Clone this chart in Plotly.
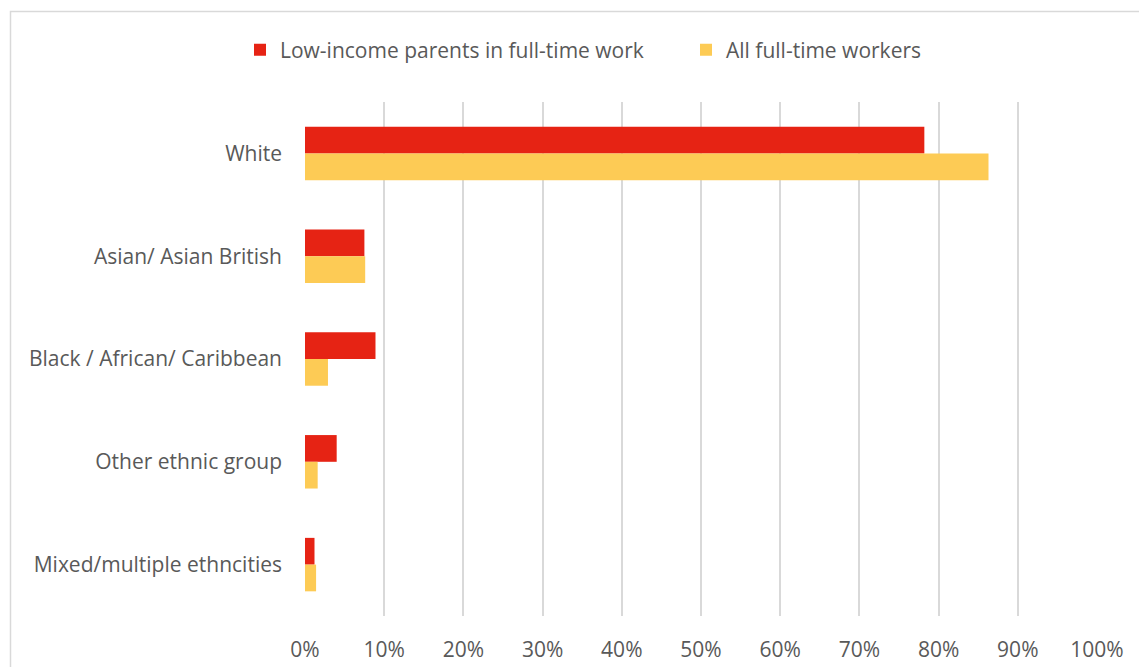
import plotly.graph_objects as go

categories = ["White", "Asian/ Asian British", "Black / African/ Caribbean",
              "Other ethnic group", "Mixed/multiple ethncities"]
low_income = [0.782, 0.075, 0.089, 0.040, 0.012]
all_workers = [0.863, 0.076, 0.029, 0.016, 0.014]
series_names = ["Low-income parents in full-time work", "All full-time workers"]
tick_vals = [i / 10 for i in range(11)]
tick_text = [f"{i*10}%" for i in range(11)]

RED = "#E62314"
YEL = "#FDCB55"
FONT = "'Open Sans', sans-serif"
GREY = "#595959"
FS = 21

fig = go.Figure()
fig.add_trace(go.Bar(y=categories, x=low_income, orientation="h", name=series_names[0],
                     marker=dict(color=RED, line=dict(width=0))))
fig.add_trace(go.Bar(y=categories, x=all_workers, orientation="h", name=series_names[1],
                     marker=dict(color=YEL, line=dict(width=0))))

L, R, T, B = 305, 42, 102, 51
W, H = 1139, 667
pw = W - L - R
ph = H - T - B

def px(x):
    return (x - L) / pw

def py(y):
    return (H - B - y) / ph

fig.update_layout(
    width=W, height=H,
    margin=dict(l=L, r=R, t=T, b=B, pad=0, autoexpand=False),
    paper_bgcolor="white", plot_bgcolor="white",
    barmode="group", bargap=0.48, bargroupgap=0,
    font=dict(family=FONT, color=GREY, size=FS),
    showlegend=True,
    legend=dict(orientation="h", x=px(240), xanchor="left", y=py(50), yanchor="middle",
                font=dict(size=FS, color=GREY, family=FONT), traceorder="normal",
                itemwidth=30, entrywidth=401, entrywidthmode="pixels",
                bgcolor="rgba(0,0,0,0)"),
    xaxis=dict(range=[0, 1], tickvals=tick_vals, ticktext=tick_text, automargin=False,
               showgrid=True, gridcolor="#D9D9D9", gridwidth=1.5,
               zeroline=False, showline=False, ticks="", ticklabelstandoff=19,
               tickfont=dict(size=FS, color=GREY)),
    yaxis=dict(autorange="reversed", showgrid=False, zeroline=False, showline=False,
               automargin=False,
               ticks="", ticklabelstandoff=22, tickfont=dict(size=FS, color=GREY)),
    shapes=[dict(type="rect", xref="paper", yref="paper",
                 x0=px(10.5), x1=px(1150), y0=py(680), y1=py(11.5),
                 line=dict(color="#D9D9D9", width=1.5), fillcolor="rgba(0,0,0,0)",
                 layer="below")],
)

fig.write_html("out.html")
